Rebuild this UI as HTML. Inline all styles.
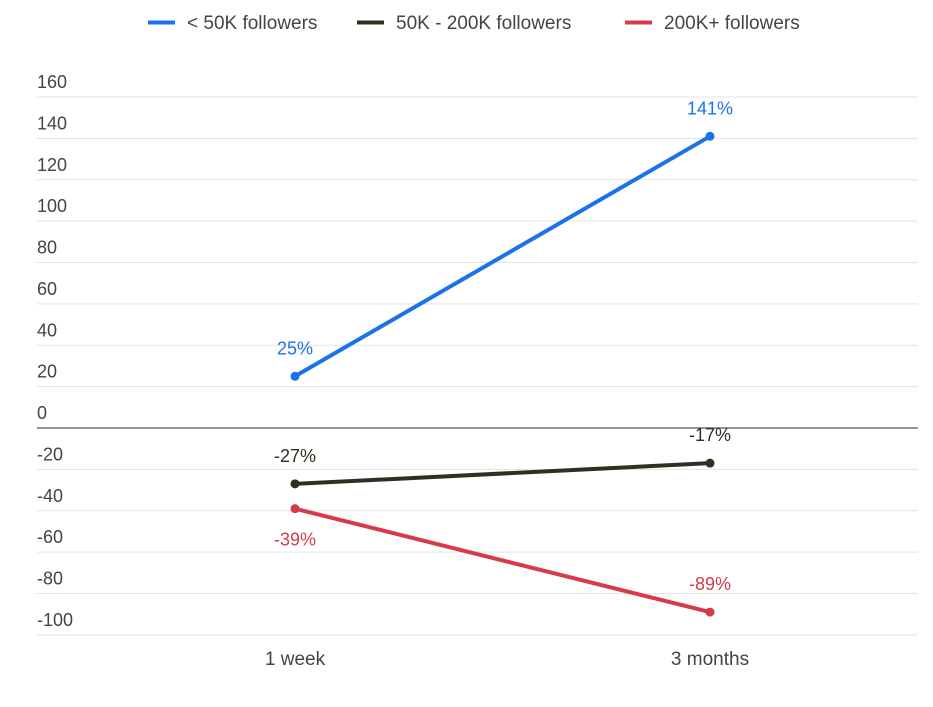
<!DOCTYPE html>
<html><head><meta charset="utf-8"><style>
body{margin:0;background:#fff;width:933px;height:702px;overflow:hidden;font-family:"Liberation Sans",sans-serif}
</style></head><body>
<svg id="chart" width="933" height="702" xmlns="http://www.w3.org/2000/svg" font-family="Liberation Sans, sans-serif">
<g id="legend"></g>
<g id="grid"></g>
<g id="series"></g>
</svg>
<script>
const categories = ["1 week", "3 months"];
const seriesNames = ["< 50K followers", "50K - 200K followers", "200K+ followers"];
const small = [25, 141];
const mid = [-27, -17];
const large = [-39, -89];
const yTicks = [160, 140, 120, 100, 80, 60, 40, 20, 0, -20, -40, -60, -80, -100];

const colors = ["#1a73e8", "#332e22", "#d93a4b"];
const allSeries = [small, mid, large];
const labelOffsets = [[-28, -28], [-28, -28], [31, -28]];
const NS = "http://www.w3.org/2000/svg";
const y = v => 428 - v * (331 / 160);
const xPos = [295, 710];
const x = i => xPos[0] + i * (xPos[1] - xPos[0]) / (categories.length - 1);
function mk(tag, attrs, parent, text) {
  const e = document.createElementNS(NS, tag);
  for (const k in attrs) e.setAttribute(k, attrs[k]);
  if (text !== undefined) e.textContent = text;
  parent.appendChild(e);
  return e;
}
const grid = document.getElementById("grid");
yTicks.forEach(t => {
  const l = mk("line", {x1: 37, x2: 918, y1: y(t), y2: y(t), stroke: t === 0 ? "#555" : "#e3e3e3", "stroke-width": t === 0 ? 1.2 : 1}, grid);
  
  
  const tx = mk("text", {x: 37, y: y(t) - 9, "font-size": 18, fill: "#444"}, grid, String(t));
  
  
});
categories.forEach((c, i) => {
  const tx = mk("text", {x: x(i), y: 665, "font-size": 19, fill: "#444", "text-anchor": "middle"}, grid, c);
  
  
});
const sg = document.getElementById("series");
allSeries.forEach((s, si) => {
  const pts = s.map((v, i) => x(i) + "," + y(v)).join(" ");
  const pl = mk("polyline", {points: pts, fill: "none", stroke: colors[si], "stroke-width": 4}, sg);
  
  
  s.forEach((v, i) => {
    const c = mk("circle", {cx: x(i), cy: y(v), r: 4.5, fill: colors[si]}, sg);
    
    
    const off = labelOffsets[si][i];
    const t = mk("text", {x: x(i), y: y(v) + off + 6, "font-size": 18, fill: colors[si], "text-anchor": "middle"}, sg, v + "%");
    
    
  });
});
const lg = document.getElementById("legend");
const legX = [148, 357, 625];
seriesNames.forEach((n, i) => {
  const r = mk("rect", {x: legX[i], y: 20.5, width: 27, height: 4, fill: colors[i]}, lg);
  
  
  const t = mk("text", {x: legX[i] + 39, y: 29, "font-size": 19, fill: "#444"}, lg, n);
  
  
});
</script>
</body></html>
